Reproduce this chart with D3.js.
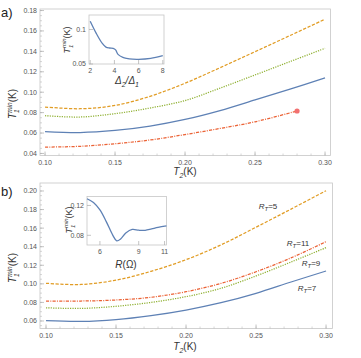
<!DOCTYPE html>
<html>
<head>
<meta charset="utf-8">
<script src="https://cdn.jsdelivr.net/npm/d3@7"></script>
<style>
  body { margin: 0; background: #fff; }
  svg { font-family: "Liberation Sans", Arial, sans-serif; }
  .tick-label { font-size: 7px; fill: #555; }
  .axis-label { font-size: 10px; fill: #333; }
</style>
</head>
<body>
<div class="container"></div>
<script>
  var width = 361,
    height = 358;

  // panel a, main curves
  var tA = [0.10, 0.125, 0.15, 0.175, 0.20, 0.225, 0.25, 0.275, 0.30];
  var aOrange = [0.0855, 0.0838, 0.0870, 0.0960, 0.1088, 0.1240, 0.1397, 0.1555, 0.1715];
  var aGreen = [0.0770, 0.0757, 0.0790, 0.0845, 0.0918, 0.1040, 0.1169, 0.1300, 0.1430];
  var aBlue = [0.0615, 0.0605, 0.0625, 0.0668, 0.0733, 0.0820, 0.0924, 0.1030, 0.1140];
  var tARed = [0.10, 0.125, 0.15, 0.175, 0.20, 0.225, 0.25, 0.28];
  var aRed = [0.0462, 0.0470, 0.0495, 0.0532, 0.0585, 0.0645, 0.0710, 0.0816];

  // panel a, inset
  var ratio = [2, 2.5, 3, 3.3, 3.6, 3.9, 4.1, 4.3, 4.7, 5, 5.5, 6, 7, 8];
  var insetA = [0.112, 0.0944, 0.0798, 0.0745, 0.0732, 0.0728, 0.0705, 0.064, 0.0597, 0.0582, 0.0570, 0.0568, 0.0582, 0.062];

  // panel b, main curves
  var tB = [0.10, 0.125, 0.15, 0.175, 0.20, 0.225, 0.25, 0.275, 0.30];
  var bRt5 = [0.1006, 0.0993, 0.1040, 0.1135, 0.1260, 0.1420, 0.1610, 0.1805, 0.2003];
  var bRt11 = [0.0815, 0.0815, 0.0826, 0.0855, 0.0915, 0.1005, 0.1130, 0.1280, 0.1454];
  var bRt9 = [0.0742, 0.0735, 0.0758, 0.0800, 0.0862, 0.0952, 0.1085, 0.1235, 0.1390];
  var bRt7 = [0.0603, 0.0595, 0.0615, 0.0658, 0.0718, 0.0797, 0.0898, 0.1020, 0.1138];

  // panel b, inset
  var resist = [5, 5.5, 6, 6.5, 7, 7.3, 7.6, 8, 8.5, 9, 9.5, 10, 10.5, 11.15];
  var insetB = [0.129, 0.124, 0.114, 0.098, 0.080, 0.0725, 0.075, 0.083, 0.0878, 0.0868, 0.0866, 0.0885, 0.0905, 0.0925];

  var xTicksMain = [0.10, 0.15, 0.20, 0.25, 0.30];
  var yTicksA = [0.04, 0.06, 0.08, 0.10, 0.12, 0.14, 0.16, 0.18];
  var yTicksB = [0.06, 0.08, 0.10, 0.12, 0.14, 0.16, 0.18, 0.20];
  var xTicksInA = [2, 4, 6, 8];
  var yTicksInA = [0.05, 0.1];
  var xTicksInB = [6, 9, 11];
  var yTicksInB = [0.08, 0.12];

  var col = { blue: "#5e81b5", orange: "#e19c24", green: "#8fb032", red: "#eb6235" };
  var dash = { orange: "3.2,1.6", green: "1.2,1.2", red: "3.2,1.2,1,1.2", blue: null };

  var svg = d3.select(".container").append("svg")
    .attr("width", width)
    .attr("height", height);

  function frame(g, x, y) {
    g.append("rect")
      .attr("x", x.range()[0]).attr("y", y.range()[1])
      .attr("width", x.range()[1] - x.range()[0])
      .attr("height", y.range()[0] - y.range()[1])
      .attr("fill", "#fff").attr("stroke", "#c6c6c6").attr("stroke-width", 0.8);
  }

  function ticks(g, x, y, xt, yt, xMinor, yMinor, fmtX, fmtY) {
    var y0 = y.range()[0], x0 = x.range()[0];
    xMinor.forEach(function(v) {
      g.append("line").attr("x1", x(v)).attr("x2", x(v)).attr("y1", y0).attr("y2", y0 - 2)
        .attr("stroke", "#bbb").attr("stroke-width", 0.6);
    });
    yMinor.forEach(function(v) {
      g.append("line").attr("y1", y(v)).attr("y2", y(v)).attr("x1", x0).attr("x2", x0 + 2)
        .attr("stroke", "#bbb").attr("stroke-width", 0.6);
    });
    xt.forEach(function(v) {
      g.append("line").attr("x1", x(v)).attr("x2", x(v)).attr("y1", y0).attr("y2", y0 - 4)
        .attr("stroke", "#aaa").attr("stroke-width", 0.7);
      g.append("text").attr("class", "tick-label")
        .attr("x", x(v)).attr("y", y0 + 9).attr("text-anchor", "middle").text(fmtX(v));
    });
    yt.forEach(function(v) {
      g.append("line").attr("y1", y(v)).attr("y2", y(v)).attr("x1", x0).attr("x2", x0 + 4)
        .attr("stroke", "#aaa").attr("stroke-width", 0.7);
      g.append("text").attr("class", "tick-label")
        .attr("x", x0 - 3).attr("y", y(v)).attr("dy", "0.35em").attr("text-anchor", "end").text(fmtY(v));
    });
  }

  function range(a, b, s) {
    var out = [];
    for (var v = a; v <= b + 1e-9; v += s) out.push(+v.toFixed(4));
    return out;
  }

  function curve(g, x, y, xs, ys, c, d, w) {
    var line = d3.line()
      .x(function(p) { return x(p[0]); })
      .y(function(p) { return y(p[1]); })
      .curve(d3.curveCatmullRom.alpha(0.5));
    g.append("path")
      .datum(xs.map(function(v, i) { return [v, ys[i]]; }))
      .attr("d", line)
      .attr("fill", "none")
      .attr("stroke", c)
      .attr("stroke-width", w || 1.25)
      .attr("stroke-dasharray", d);
  }

  // T_1^min(K) label, rotated
  function yLabel(g, cx, cy, size) {
    var t = g.append("text").attr("class", "axis-label")
      .attr("transform", "translate(" + cx + "," + cy + ") rotate(-90)")
      .attr("text-anchor", "middle").style("font-size", size + "px");
    t.append("tspan").style("font-style", "italic").text("T");
    t.append("tspan").style("font-size", (size * 0.65) + "px").style("font-style", "italic")
      .attr("dy", size * 0.3).text("1");
    t.append("tspan").style("font-size", (size * 0.65) + "px").style("font-style", "italic")
      .attr("dx", -size * 0.35).attr("dy", -size * 0.75).text("min");
    t.append("tspan").attr("dy", size * 0.45).text("(K)");
  }

  function t2Label(g, cx, cy) {
    var t = g.append("text").attr("class", "axis-label")
      .attr("x", cx).attr("y", cy).attr("text-anchor", "middle");
    t.append("tspan").style("font-style", "italic").text("T");
    t.append("tspan").style("font-size", "7px").style("font-style", "italic").attr("dy", 3).text("2");
    t.append("tspan").attr("dy", -3).text("(K)");
  }

  var fmt2 = d3.format(".2f");

  // ---------------- panel a ----------------
  var ga = svg.append("g");
  var xa = d3.scaleLinear().domain([0.0964, 0.3039]).range([40, 330.5]);
  var ya = d3.scaleLinear().domain([0.038, 0.1815]).range([155.5, 9]);
  frame(ga, xa, ya);
  ticks(ga, xa, ya, xTicksMain, yTicksA, range(0.10, 0.30, 0.01), range(0.04, 0.18, 0.005), fmt2, fmt2);
  curve(ga, xa, ya, tA, aOrange, col.orange, dash.orange);
  curve(ga, xa, ya, tA, aGreen, col.green, dash.green);
  curve(ga, xa, ya, tA, aBlue, col.blue, dash.blue);
  curve(ga, xa, ya, tARed, aRed, col.red, dash.red);
  ga.append("circle")
    .attr("cx", xa(tARed[tARed.length - 1])).attr("cy", ya(aRed[aRed.length - 1]))
    .attr("r", 2.6).attr("fill", "#f27070");
  yLabel(ga, 16, 104, 10);
  t2Label(ga, 185, 175);
  ga.append("text").attr("x", 1).attr("y", 17).style("font-size", "13px").attr("fill", "#222").text("a)");

  // inset a
  var xia = d3.scaleLinear().domain([1.9, 8.1]).range([89, 164]);
  var yia = d3.scaleLinear().domain([0.05, 0.121]).range([64, 15]);
  frame(ga, xia, yia);
  ticks(ga, xia, yia, xTicksInA, yTicksInA, [], [], d3.format("d"), function(v) { return v === 0.1 ? "0.1" : "0.05"; });
  curve(ga, xia, yia, ratio, insetA, col.blue, null, 1.3);
  var la = ga.append("text").attr("class", "axis-label").attr("x", 127).attr("y", 84)
    .attr("text-anchor", "middle");
  la.append("tspan").style("font-style", "italic").text("Δ");
  la.append("tspan").style("font-size", "7px").style("font-style", "italic").attr("dy", 3).text("2");
  la.append("tspan").style("font-style", "italic").attr("dy", -3).text("/Δ");
  la.append("tspan").style("font-size", "7px").style("font-style", "italic").attr("dy", 3).text("1");
  yLabel(ga, 70, 40, 9);

  // ---------------- panel b ----------------
  var gb = svg.append("g");
  var xb = d3.scaleLinear().domain([0.0957, 0.3046]).range([40, 332.5]);
  var yb = d3.scaleLinear().domain([0.0519, 0.2086]).range([328.5, 183]);
  frame(gb, xb, yb);
  ticks(gb, xb, yb, xTicksMain, yTicksB, range(0.10, 0.30, 0.01), range(0.055, 0.205, 0.005), fmt2, fmt2);
  curve(gb, xb, yb, tB, bRt5, col.orange, dash.orange);
  curve(gb, xb, yb, tB, bRt11, col.red, dash.red);
  curve(gb, xb, yb, tB, bRt9, col.green, dash.green);
  curve(gb, xb, yb, tB, bRt7, col.blue, dash.blue);
  yLabel(gb, 16, 268, 10);
  t2Label(gb, 185, 350);
  gb.append("text").attr("x", 1).attr("y", 196).style("font-size", "13px").attr("fill", "#222").text("b)");

  var rtLabels = [
    { name: "5", x: 268, y: 209 },
    { name: "11", x: 298, y: 246 },
    { name: "9", x: 311, y: 266 },
    { name: "7", x: 307, y: 291 }
  ];
  rtLabels.forEach(function(d) {
    var t = gb.append("text").attr("x", d.x).attr("y", d.y).attr("text-anchor", "middle")
      .style("font-size", "8px").attr("fill", "#333");
    t.append("tspan").style("font-style", "italic").text("R");
    t.append("tspan").style("font-size", "6px").style("font-style", "italic").attr("dy", 2).text("T");
    t.append("tspan").attr("dy", -2).text("=" + d.name);
  });

  // inset b
  var xib = d3.scaleLinear().domain([5, 11.15]).range([87, 166.5]);
  var yib = d3.scaleLinear().domain([0.067, 0.132]).range([245, 196.5]);
  frame(gb, xib, yib);
  ticks(gb, xib, yib, xTicksInB, yTicksInB, [], [], d3.format("d"), fmt2);
  curve(gb, xib, yib, resist, insetB, col.blue, null, 1.3);
  var lb = gb.append("text").attr("class", "axis-label").attr("x", 126).attr("y", 268)
    .attr("text-anchor", "middle");
  lb.append("tspan").style("font-style", "italic").text("R");
  lb.append("tspan").text("(Ω)");
  yLabel(gb, 72, 220, 9);
</script>
</body>
</html>
